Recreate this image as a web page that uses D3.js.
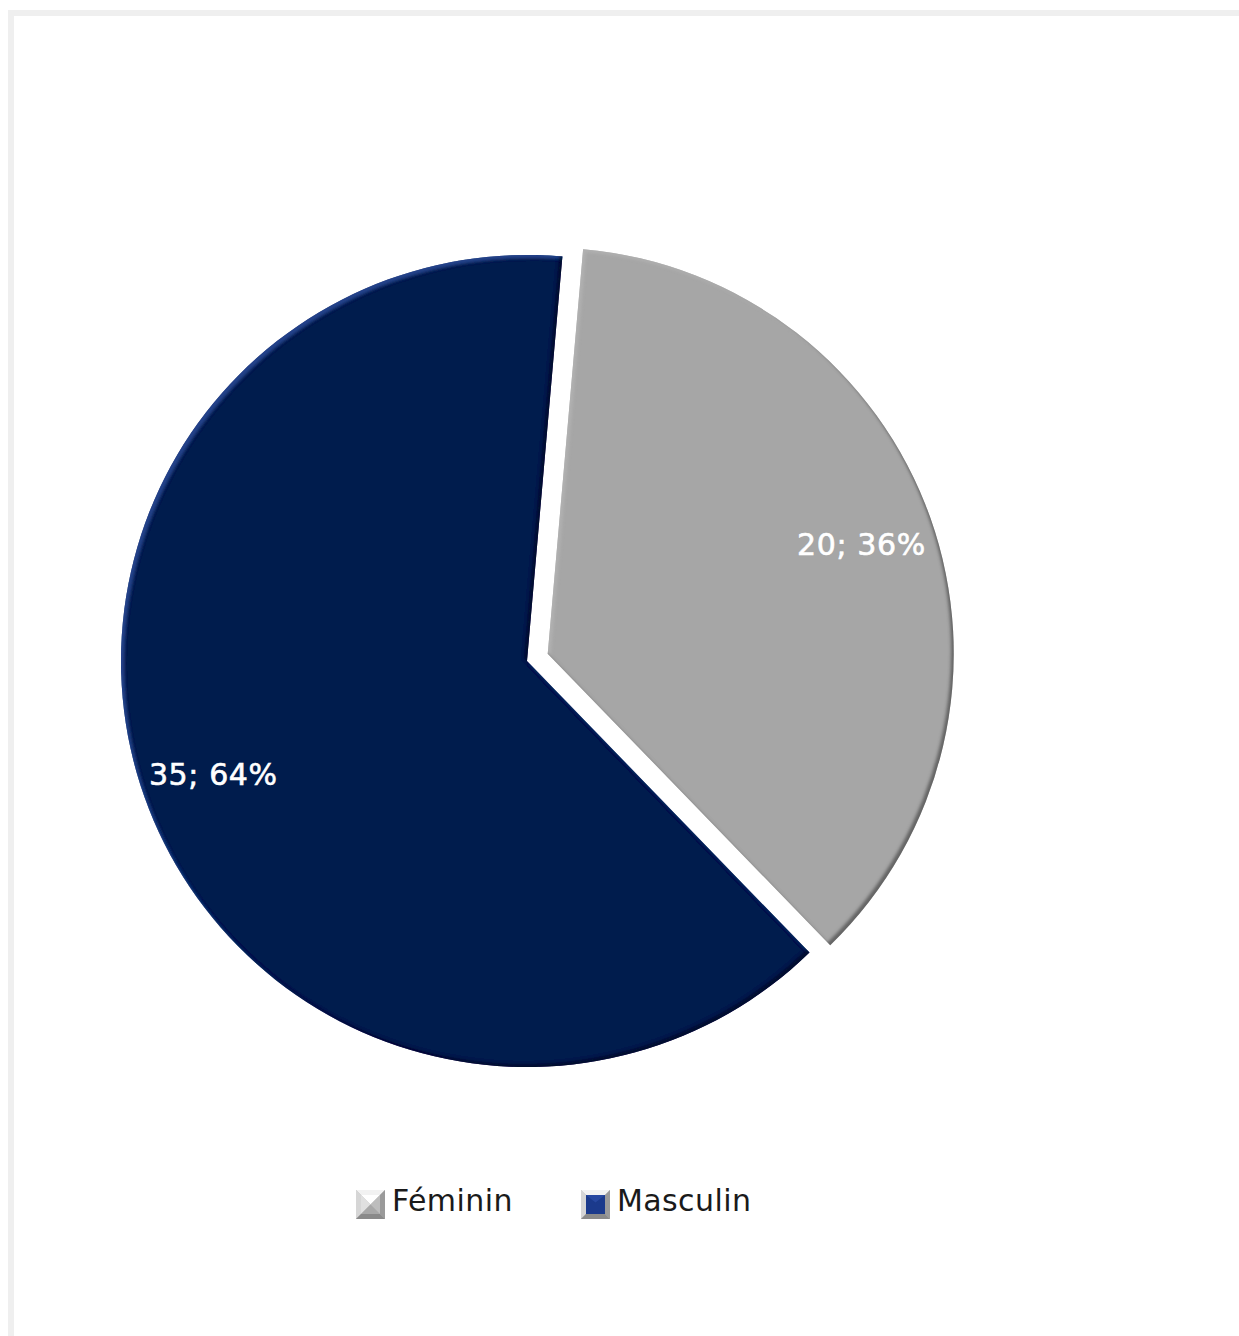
<!DOCTYPE html>
<html>
<head>
<meta charset="utf-8">
<script src="https://cdn.jsdelivr.net/npm/d3@7"></script>
<style>
  html, body { margin: 0; padding: 0; background: #ffffff; }
  svg { display: block; }
</style>
</head>
<body>
<svg id="chart" width="1239" height="1336"></svg>
<script>
// Répartition par sexe
const categories = ["Féminin", "Masculin"];
const values = [20, 35];
const colors = ["#a6a6a6", "#011a4e"];
const edgeLight = ["#b4b4b4", "#2a4d9c"];
const edgeDark = ["#4a4a4a", "#000a24"];

const W = 1239, H = 1336;
const svg = d3.select("#chart");

// chart frame
svg.append("rect")
  .attr("x", 11).attr("y", 13)
  .attr("width", W + 20).attr("height", H + 20)
  .attr("fill", "#ffffff")
  .attr("stroke", "#efefef").attr("stroke-width", 6);

const cx = 527, cy = 661, R = 406;
const explode = 22;
const total = d3.sum(values);

const pie = d3.pie().sort(null)
  .startAngle(5 * Math.PI / 180)
  .endAngle(5 * Math.PI / 180 + 2 * Math.PI);
const arcs = pie(values);
const arc = d3.arc().innerRadius(0).outerRadius(R);
const labelArc = d3.arc().innerRadius(R * 0.82).outerRadius(R * 0.82);

const defs = svg.append("defs");
// bevel: darker lower-right rim, lighter upper-left rim
categories.forEach((c, i) => {
  const f = defs.append("filter").attr("id", "bevel" + i)
    .attr("x", "-5%").attr("y", "-5%").attr("width", "110%").attr("height", "110%");
  f.append("feGaussianBlur").attr("in", "SourceAlpha").attr("stdDeviation", 1.6).attr("result", "blur");
  f.append("feOffset").attr("in", "blur").attr("dx", -3).attr("dy", -3).attr("result", "offDark");
  f.append("feComposite").attr("in", "SourceAlpha").attr("in2", "offDark").attr("operator", "out").attr("result", "rimDark");
  f.append("feFlood").attr("flood-color", edgeDark[i]).attr("flood-opacity", 0.8).attr("result", "colDark");
  f.append("feComposite").attr("in", "colDark").attr("in2", "rimDark").attr("operator", "in").attr("result", "shadow");
  f.append("feOffset").attr("in", "blur").attr("dx", 3).attr("dy", 3).attr("result", "offLight");
  f.append("feComposite").attr("in", "SourceAlpha").attr("in2", "offLight").attr("operator", "out").attr("result", "rimLight");
  f.append("feFlood").attr("flood-color", edgeLight[i]).attr("flood-opacity", 0.7).attr("result", "colLight");
  f.append("feComposite").attr("in", "colLight").attr("in2", "rimLight").attr("operator", "in").attr("result", "light");
  const m = f.append("feMerge");
  m.append("feMergeNode").attr("in", "SourceGraphic");
  m.append("feMergeNode").attr("in", "light");
  m.append("feMergeNode").attr("in", "shadow");
});

const g = svg.append("g").attr("transform", `translate(${cx},${cy})`);

const slices = g.selectAll("g.slice").data(arcs).enter().append("g")
  .attr("class", "slice")
  .attr("transform", (d, i) => {
    if (i !== 0) return null;
    const a = (d.startAngle + d.endAngle) / 2;
    return `translate(${explode * Math.sin(a)},${-explode * Math.cos(a)})`;
  });

slices.append("path")
  .attr("d", arc)
  .attr("fill", (d, i) => colors[i])
  .attr("filter", (d, i) => `url(#bevel${i})`);

slices.append("text")
  .attr("transform", d => `translate(${labelArc.centroid(d)})`)
  .attr("text-anchor", "middle")
  .attr("dy", "0.42em")
  .attr("fill", "#ffffff")
  .attr("stroke", "#ffffff")
  .attr("stroke-width", 0.6)
  .style("font-family", "'DejaVu Sans', sans-serif")
  .style("font-size", "30px")
  .style("letter-spacing", "0.6px")
  .text(d => `${d.data}; ${Math.round(d.data / total * 100)}%`);

// legend
const legendX = [356, 581];
const legend = svg.append("g");
categories.forEach((c, i) => {
  const lg = legend.append("g").attr("transform", `translate(${legendX[i]},1190)`);
  const s = 29;
  // beveled square marker
  lg.append("rect").attr("width", s).attr("height", s).attr("fill", "#b8b8b8");
  lg.append("polygon").attr("points", `0,0 ${s},0 ${s - 5},5 5,5`).attr("fill", "#f2f2f2");
  lg.append("polygon").attr("points", `0,0 5,5 5,${s - 5} 0,${s}`).attr("fill", "#d6d6d6");
  lg.append("polygon").attr("points", `${s},0 ${s},${s} ${s - 5},${s - 5} ${s - 5},5`).attr("fill", "#9a9a9a");
  lg.append("polygon").attr("points", `0,${s} ${s},${s} ${s - 5},${s - 5} 5,${s - 5}`).attr("fill", "#8a8a8a");
  if (i === 0) {
    lg.append("polygon").attr("points", `5,5 ${s - 5},5 ${s / 2},${s / 2}`).attr("fill", "#ffffff");
    lg.append("polygon").attr("points", `5,5 ${s / 2},${s / 2} 5,${s - 5}`).attr("fill", "#e0e0e0");
    lg.append("polygon").attr("points", `${s - 5},5 ${s / 2},${s / 2} ${s - 5},${s - 5}`).attr("fill", "#bdbdbd");
    lg.append("polygon").attr("points", `5,${s - 5} ${s / 2},${s / 2} ${s - 5},${s - 5}`).attr("fill", "#a8a8a8");
  } else {
    lg.append("rect").attr("x", 5).attr("y", 5).attr("width", s - 10).attr("height", s - 10).attr("fill", "#1b3a8c");
    lg.append("polygon").attr("points", `5,5 ${s - 5},5 ${s / 2},${s / 2 - 2}`).attr("fill", "#2c4fa8").attr("opacity", 0.7);
  }
  lg.append("text")
    .attr("x", 36).attr("y", 21)
    .attr("fill", "#1a1a1a")
    .style("font-family", "'DejaVu Sans', sans-serif")
    .style("font-size", "30px")
    .style("letter-spacing", "0.4px")
    .text(c);
});
</script>
</body>
</html>
